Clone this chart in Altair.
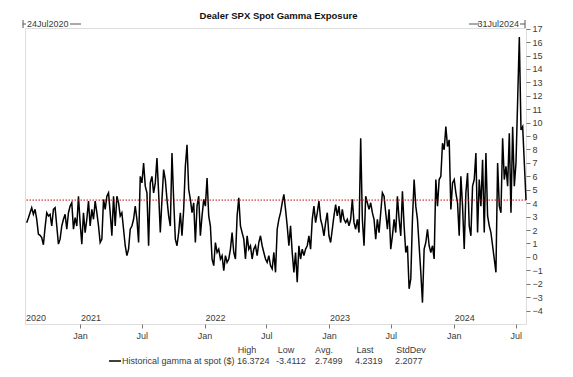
import altair as alt
import pandas as pd

# ---------------- data ----------------
title_text = "Dealer SPX Spot Gamma Exposure"
start_label = "24Jul2020"
end_label = "31Jul2024"
series_name = "Historical gamma at spot ($)"

first_date = "2020-07-29"
last_date = "2024-07-31"

# gamma readings, roughly every 5 days (Jul 2020 - mid 2022)
gamma_a = [
    2.55, 2.9, 3.29, 3.66, 3.17, 3.54, 2.8, 1.7, 1.6, 1.44, 0.9, 2.2, 3.29, 3.05, 3.17, 2.3,
    3.54, 3.66, 2.3, 0.95, 1.32, 2.3, 2.8, 3.17, 2.06, 3.29, 3.78, 4.03, 2.06, 2.92, 2.3, 4.52,
    2.5, 0.95, 3.29, 1.81, 2.8, 4.15, 2.3, 3.54, 2.8, 4.15, 3.29, 2.3, 1.07, 1.32, 4.28, 3.54,
    4.52, 4.77, 3.29, 1.57, 4.52, 2.3, 4.52, 4.03, 3.05, 3.29, 2.06, 0.83, 0.09, 0.58, 2.06, 2.3,
    2.8, 3.78, 2.8, 1.07, 6.0, 5.51, 6.99, 5.27, 4.77, 0.83, 5.51, 6.0, 4.77, 5.51, 7.36, 4.77,
    1.81, 4.28, 6.5, 5.76, 4.28, 3.05, 2.3, 7.73, 4.28, 1.32, 0.83, 1.81, 3.29, 1.57, 3.54, 6.74,
    8.35, 5.02, 4.28, 3.29, 4.03, 1.07, 3.78, 4.52, 1.57, 3.05, 4.28, 3.78, 5.88, 3.05, 2.3, -0.16,
    -0.65, 1.07, 0.33, 0.58, -0.16, 0.09, -1.02, 0.09, -0.41, -0.16, 0.58, 1.81, 0.33, -0.16, 3.05, 4.4,
    2.3, 1.81, 1.32, -0.16, 1.57, 0.58, 0.83, -0.16, 0.58, 0.83, 0.09, 1.07, 1.57, 0.83, 0.33, -0.16,
    -0.41, 0.09, -0.65, -0.9, 0.33, -1.15, 2.06, 2.8, 3.29, 4.03, 4.65, 3.54, 2.3, 0.83,
]
# gamma readings, roughly every 5 days (mid 2022 - Jul 2024)
gamma_b = [
    2.31, 0.33, -1.15, 0.33, -1.88, 0.83, -0.16, 0.58, 0.09, 0.58, 0.83, 1.57, 0.58, 2.8, 3.78, 2.55,
    3.29, 4.15, 2.8, 2.31, 1.57, 2.55, 3.29, 1.57, 1.07, 2.06, 3.05, 3.9, 3.05, 3.78, 2.55, 3.54,
    2.8, 2.55, 2.8, 2.31, 2.8, 4.28, 2.55, 2.06, 2.8, 1.81, 8.84, 2.8, 0.83, 4.52, 4.03, 3.54,
    4.03, 3.29, 2.8, 1.32, 2.8, 1.81, 3.29, 4.77, 4.52, 3.29, 2.06, 3.54, 0.58, 1.57, 2.8, 1.81,
    4.52, 2.8, 1.57, 4.89, 2.31, 0.33, 0.83, -2.38, -1.64, 2.8, 5.76, 3.78, 2.8, 0.83, -1.15, -3.41,
    0.58, 1.07, 2.06, 0.83, 0.33, 0.83, -0.16, 5.76, 3.78, 5.76, 6.0, 8.47, 7.98, 9.7, 8.22, 8.72,
    3.54, 5.51, 5.76, 4.77, 4.03, 1.57, 6.0, 3.78, 0.58, 4.77, 6.25, 2.31, 1.57, 5.27, 5.76, 7.73,
    1.81, 5.76, 3.78, 7.24, 1.81, 7.73, 3.05, 2.31, 1.81, 0.83, -0.16, -1.15, 6.99, 3.78, 3.29, 8.84,
    5.76, 6.74, 5.27, 9.21, 3.29, 9.7, 5.27, 6.99, 11.67, 16.37, 9.45, 9.7, 7.0, 4.2319,
]

stat_names = ["High", "Low", "Avg.", "Last", "StdDev"]
stat_values = ["16.3724", "-3.4112", "2.7499", "4.2319", "2.2077"]
last_value = 4.2319

year_labels = ["2020", "2021", "2022", "2023", "2024"]
year_starts = ["2020-07-24", "2021-01-01", "2022-01-01", "2023-01-01", "2024-01-01"]

# ---------------- build ----------------
gamma = gamma_a + gamma_b
dates = pd.date_range(first_date, last_date, periods=len(gamma))
df = pd.DataFrame({"date": dates, "gamma": gamma})

FONT = "Liberation Sans"
TXT = "#3a3a3a"
W, H = 501, 296

xscale = alt.Scale(domain=[alt.DateTime(year=2020, month=7, date=24),
                           alt.DateTime(year=2024, month=7, date=31)])
yscale = alt.Scale(domain=[-5, 17.05], nice=False, zero=False)

tick_dates = []
for yr in [2021, 2022, 2023, 2024]:
    tick_dates.append(alt.DateTime(year=yr, month=1, date=1))
    tick_dates.append(alt.DateTime(year=yr, month=7, date=1))

xaxis = alt.Axis(values=tick_dates, format="%b", title=None, grid=False,
                 domain=False, tickColor="#777", tickSize=4,
                 labelFont=FONT, labelFontSize=9, labelColor=TXT,
                 labelPadding=3, labelFlush=False, labelOverlap=False)
yaxis = alt.Axis(orient="right", values=list(range(-4, 18)), title=None,
                 grid=False, domain=False, tickColor="#777", tickSize=4,
                 labelFont=FONT, labelFontSize=9, labelColor=TXT,
                 labelPadding=2, labelOverlap=False, labelBound=False,
                 labelFlush=False)

line = alt.Chart(df).mark_line(color="black", strokeWidth=1.5).encode(
    x=alt.X("date:T", scale=xscale, axis=xaxis),
    y=alt.Y("gamma:Q", scale=yscale, axis=yaxis),
)

ref = alt.Chart(pd.DataFrame({"v": [last_value]})).mark_rule(
    color="#d00000", strokeDash=[1.5, 1.5], strokeWidth=1
).encode(y=alt.Y("v:Q", scale=yscale, axis=yaxis))

years_df = pd.DataFrame({"d": pd.to_datetime(year_starts), "t": year_labels})
years = alt.Chart(years_df).mark_text(
    align="left", baseline="bottom", font=FONT, fontSize=9, color=TXT, dx=1
).encode(x=alt.X("d:T", scale=xscale, axis=xaxis), y=alt.value(H - 1), text="t:N")

title = alt.Chart(pd.DataFrame({"t": [title_text]})).mark_text(
    font=FONT, fontSize=9.5, fontWeight="bold", color="#111", baseline="alphabetic"
).encode(x=alt.value(W / 2 + 3), y=alt.value(-9), text="t:N")

ann_left = alt.Chart(pd.DataFrame({"t": [start_label]})).mark_text(
    font=FONT, fontSize=9, color=TXT, align="left", baseline="middle"
).encode(x=alt.value(2), y=alt.value(-4), text="t:N")
ann_right = alt.Chart(pd.DataFrame({"t": [end_label]})).mark_text(
    font=FONT, fontSize=9, color=TXT, align="right", baseline="middle"
).encode(x=alt.value(W - 7), y=alt.value(-4), text="t:N")

def hrule(x1, x2, y, color="#555", w=1):
    return alt.Chart(pd.DataFrame({"a": [0]})).mark_rule(color=color, strokeWidth=w).encode(
        x=alt.value(x1), x2=alt.value(x2), y=alt.value(y))

def vrule(x, y1, y2, color="#555", w=1):
    return alt.Chart(pd.DataFrame({"a": [0]})).mark_rule(color=color, strokeWidth=w).encode(
        x=alt.value(x), y=alt.value(y1), y2=alt.value(y2))

deco = [
    vrule(-2, -8, 0), hrule(-2, 1, -4), hrule(45, 56, -4),
    hrule(444, 454, -4), hrule(W - 6, W - 1, -4), vrule(W - 1, -8, 0),
]

# legend block below the axis
stat_x = [222, 261, 299, 340, 386]
val_x = [212, 251, 290, 330, 370]
legend_layers = [
    hrule(84, 96, 333, color="black", w=1.5),
    alt.Chart(pd.DataFrame({"t": [series_name]})).mark_text(
        font=FONT, fontSize=9, color=TXT, align="left", baseline="middle"
    ).encode(x=alt.value(97), y=alt.value(333), text="t:N"),
]
for nm, vx, sx, val in zip(stat_names, val_x, stat_x, stat_values):
    legend_layers.append(alt.Chart(pd.DataFrame({"t": [nm]})).mark_text(
        font=FONT, fontSize=9, color=TXT, align="center", baseline="middle"
    ).encode(x=alt.value(sx), y=alt.value(322), text="t:N"))
    legend_layers.append(alt.Chart(pd.DataFrame({"t": [val]})).mark_text(
        font=FONT, fontSize=9, color=TXT, align="left", baseline="middle"
    ).encode(x=alt.value(vx), y=alt.value(333), text="t:N"))

chart = alt.layer(line, ref, years, title, ann_left, ann_right, *deco, *legend_layers).properties(
    width=W, height=H,
    autosize=alt.AutoSizeParams(type="none"),
    padding={"left": 25, "top": 28, "right": 47, "bottom": 53},
).configure_view(stroke="#777", strokeWidth=1).configure(background="white")

chart.save("out.html", embed_options={"renderer": "svg", "actions": False})
